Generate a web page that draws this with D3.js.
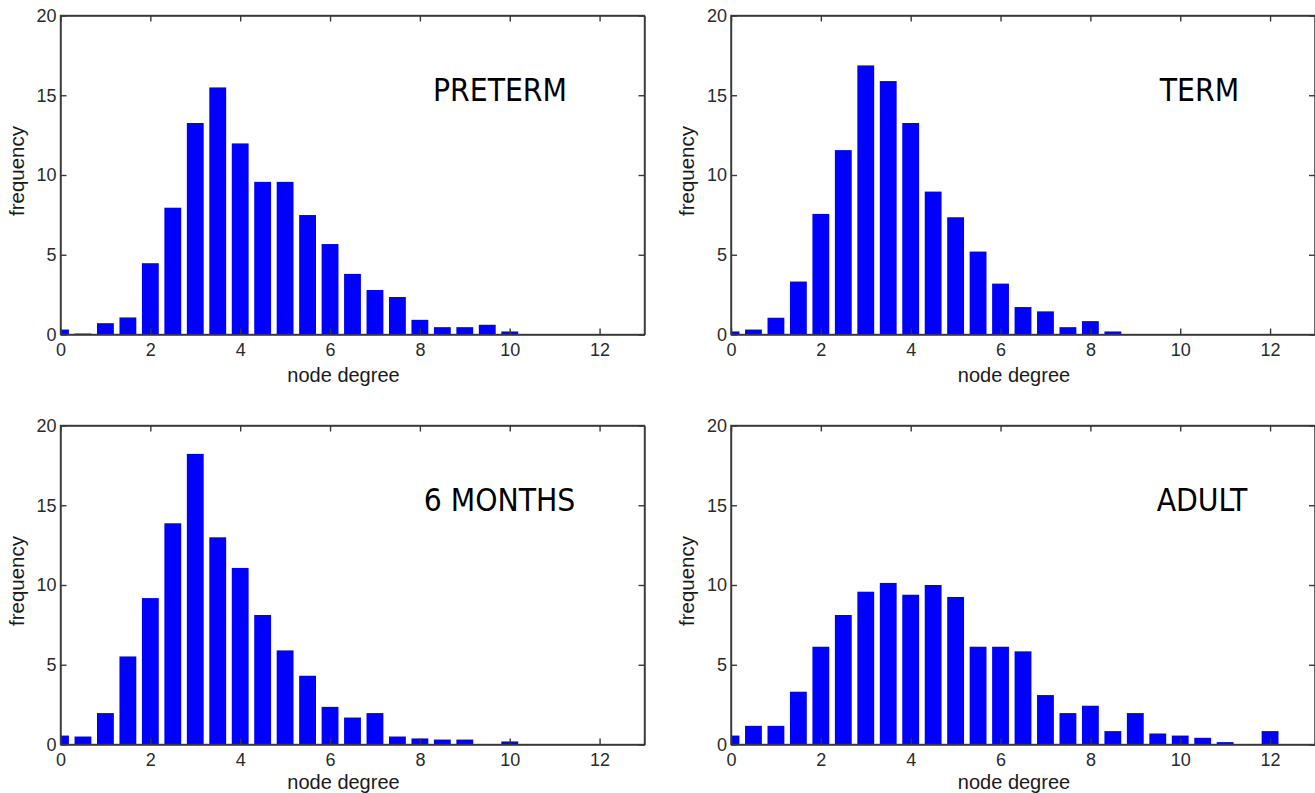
<!DOCTYPE html>
<html>
<head>
<meta charset="utf-8">
<script src="https://cdn.jsdelivr.net/npm/d3@7"></script>
<style>
    body { margin: 0; background: #ffffff; }
    svg { display: block; }
</style>
</head>
<body>
<svg id="drawing_region"></svg>
<script>
// bin centres (node degree) and frequency per bin
const bins = [0, 0.5, 1, 1.5, 2, 2.5, 3, 3.5, 4, 4.5, 5, 5.5, 6, 6.5, 7, 7.5, 8, 8.5, 9, 9.5, 10, 10.5, 11, 11.5, 12];
const preterm   = [0.31, 0.06, 0.71, 1.07, 4.47, 7.95, 13.26, 15.49, 11.98, 9.57, 9.57, 7.49, 5.67, 3.80, 2.79, 2.35, 0.92, 0.46, 0.46, 0.61, 0.19, 0, 0, 0, 0];
const term      = [0.19, 0.31, 1.05, 3.32, 7.56, 11.56, 16.87, 15.89, 13.26, 8.96, 7.35, 5.20, 3.19, 1.72, 1.45, 0.46, 0.84, 0.19, 0, 0, 0, 0, 0, 0, 0];
const sixMonths = [0.56, 0.50, 1.97, 5.52, 9.18, 13.87, 18.22, 12.99, 11.07, 8.12, 5.90, 4.31, 2.36, 1.69, 1.97, 0.50, 0.38, 0.31, 0.31, 0, 0.19, 0, 0, 0, 0];
const adult     = [0.56, 1.17, 1.17, 3.31, 6.13, 8.12, 9.58, 10.13, 9.39, 10.00, 9.25, 6.13, 6.13, 5.84, 3.10, 1.97, 2.43, 0.84, 1.97, 0.69, 0.56, 0.42, 0.15, 0, 0.84];

const titles = ['PRETERM', 'TERM', '6 MONTHS', 'ADULT'];
const xTicks = [0, 2, 4, 6, 8, 10, 12];
const yTicks = [0, 5, 10, 15, 20];
const xDomain = [0, 13];
const yDomain = [0, 20];

const svg = d3.select('#drawing_region')
    .attr('width', 1315)
    .attr('height', 793);

const panels = [
    { values: preterm,   title: titles[0], left: 60.5, top: 15.5,  title_x: 439.5, label_dy: 47 },
    { values: term,      title: titles[1], left: 731,  top: 15.5,  title_x: 468.5, label_dy: 47 },
    { values: sixMonths, title: titles[2], left: 60.5, top: 425.5, title_x: 439,   label_dy: 44 },
    { values: adult,     title: titles[3], left: 731,  top: 425.5, title_x: 471,   label_dy: 44 }
];

class Histogram {

    constructor( config, data ) {
        this.config = {
            parent: config.parent,
            left: config.left,
            top: config.top,
            width: config.width || 584,
            height: config.height || 319,
            title: config.title,
            title_x: config.title_x,
            label_dy: config.label_dy || 47,
            id: config.id
        }
        this.data = data;
        this.init();
    }

    init() {
        let self = this;

        self.chart = self.config.parent.append('g')
            .attr('transform', `translate(${self.config.left}, ${self.config.top})`);

        self.xscale = d3.scaleLinear()
            .domain( xDomain )
            .range( [0, self.config.width] );

        self.yscale = d3.scaleLinear()
            .domain( yDomain )
            .range( [self.config.height, 0] );

        self.chart.append('clipPath')
            .attr('id', 'clip' + self.config.id)
            .append('rect')
            .attr('width', self.config.width)
            .attr('height', self.config.height);

        self.bar_group = self.chart.append('g')
            .attr('clip-path', `url(#clip${self.config.id})`);

        self.xaxis = d3.axisBottom( self.xscale ).tickValues( xTicks ).tickSize(-6).tickSizeOuter(0).tickPadding(9);
        self.xaxis_top = d3.axisTop( self.xscale ).tickValues( xTicks ).tickSize(-6).tickSizeOuter(0).tickFormat('');
        self.yaxis = d3.axisLeft( self.yscale ).tickValues( yTicks ).tickSize(-6).tickSizeOuter(0).tickPadding(4);
        self.yaxis_right = d3.axisRight( self.yscale ).tickValues( yTicks ).tickSize(-6).tickSizeOuter(0).tickFormat('');

        self.xaxis_group = self.chart.append('g')
            .attr('transform', `translate(0, ${self.config.height})`);
        self.xaxis_top_group = self.chart.append('g');
        self.yaxis_group = self.chart.append('g');
        self.yaxis_right_group = self.chart.append('g')
            .attr('transform', `translate(${self.config.width}, 0)`);
    }

    update() {
        let self = this;
        self.bar_width = (self.xscale(0.375) - self.xscale(0));
        self.render();
    }

    render() {
        let self = this;

        self.bar_group.selectAll('rect')
            .data( self.data.filter( d => d.v > 0 ) )
            .enter()
            .append('rect')
            .attr('x', d => self.xscale(d.x) - self.bar_width / 2)
            .attr('y', d => self.yscale(d.v))
            .attr('width', self.bar_width)
            .attr('height', d => self.yscale(0) - self.yscale(d.v))
            .attr('fill', '#0000ff');

        self.xaxis_group.call( self.xaxis );
        self.xaxis_top_group.call( self.xaxis_top );
        self.yaxis_group.call( self.yaxis );
        self.yaxis_right_group.call( self.yaxis_right );

        self.chart.selectAll('.domain, .tick line')
            .attr('stroke', '#383838')
            .attr('stroke-width', 1.4);

        self.chart.selectAll('.tick text')
            .attr('fill', '#2a2a2a')
            .style('font-family', '"Liberation Sans Narrow", "Liberation Sans", Arial, sans-serif')
            .style('font-size', '18px');

        // box top / right edges
        self.chart.append('rect')
            .attr('width', self.config.width)
            .attr('height', self.config.height)
            .attr('fill', 'none')
            .attr('stroke', '#383838')
            .attr('stroke-width', 1.4);

        self.chart.append('text')
            .attr('x', self.config.width / 2 - 9)
            .attr('y', self.config.height + self.config.label_dy)
            .attr('text-anchor', 'middle')
            .style('font-family', '"Liberation Sans", Arial, sans-serif')
            .style('font-size', '20px')
            .attr('fill', '#1a1a1a')
            .text('node degree');

        self.chart.append('text')
            .attr('transform', `translate(-37, ${self.config.height / 2 - 4}) rotate(-90)`)
            .attr('text-anchor', 'middle')
            .style('font-family', '"Liberation Sans", Arial, sans-serif')
            .style('font-size', '20.5px')
            .attr('fill', '#1a1a1a')
            .text('frequency');

        self.chart.append('text')
            .attr('x', self.config.title_x)
            .attr('y', 85)
            .attr('text-anchor', 'middle')
            .style('font-family', '"DejaVu Sans Condensed", "DejaVu Sans", sans-serif')
            .style('font-size', '31.5px')
            .attr('fill', '#000000')
            .text( self.config.title );
    }
}

panels.forEach( (p, i) => {
    const data = bins.map( (b, j) => ({ x: b, v: p.values[j] }) );
    const hist = new Histogram( {
        parent: svg,
        left: p.left,
        top: p.top,
        width: 584,
        height: 319,
        title: p.title,
        title_x: p.title_x,
        label_dy: p.label_dy,
        id: i
    }, data );
    hist.update();
});
</script>
</body>
</html>
